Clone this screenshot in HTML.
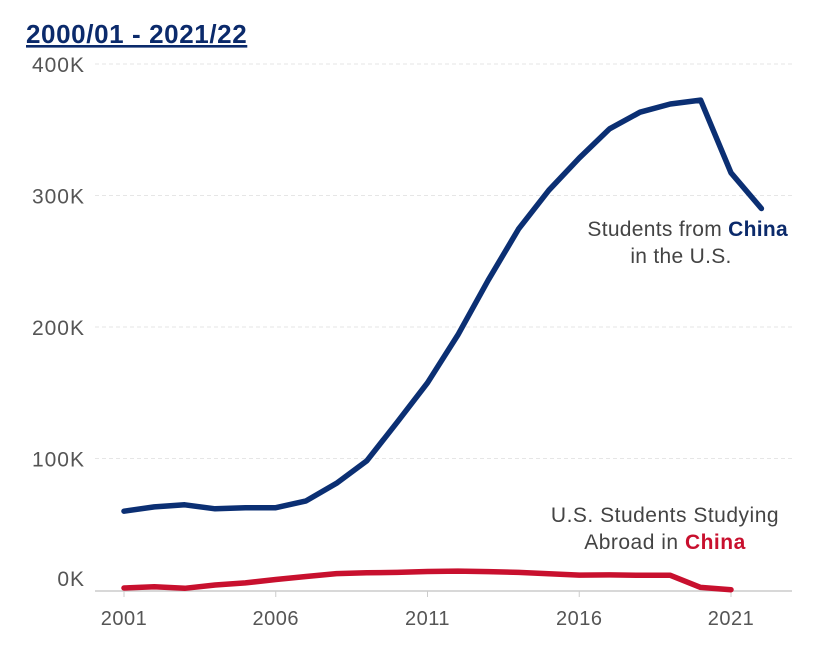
<!DOCTYPE html>
<html><head><meta charset="utf-8"><style>
body{margin:0;background:#fff;width:830px;height:650px;overflow:hidden;font-family:"Liberation Sans",sans-serif}
</style></head><body>
<svg id="chart" width="830" height="650">
<text x="26" y="43" font-size="26" font-weight="bold" letter-spacing="0.6" fill="#0b2a6b" text-decoration="underline">2000/01 - 2021/22</text>
<g id="grid"></g><g id="axes"></g><g id="series"></g>
<text x="788" y="236" text-anchor="end" font-size="21" letter-spacing="0.3" fill="#444">Students from <tspan font-weight="bold" fill="#0b2a6b">China</tspan></text>
<text x="681" y="263" text-anchor="middle" font-size="21" letter-spacing="0.3" fill="#444">in the U.S.</text>
<text x="665" y="522" text-anchor="middle" font-size="21" letter-spacing="0.5" fill="#444">U.S. Students Studying</text>
<text x="665" y="549" text-anchor="middle" font-size="21" letter-spacing="0.5" fill="#444">Abroad in <tspan font-weight="bold" fill="#c8102e">China</tspan></text>
</svg>
<script>
const years=[2001,2002,2003,2004,2005,2006,2007,2008,2009,2010,2011,2012,2013,2014,2015,2016,2017,2018,2019,2020,2021,2022];
const chinaInUS=[59939,63211,64757,61765,62523,62582,67723,81127,98235,127628,157558,194029,235597,274439,304040,328547,350755,363341,369548,372532,317299,290086];
const usInChina=[1500,2400,1300,3800,5400,8000,10300,12500,13100,13400,14100,14400,14000,13400,12400,11300,11500,11200,11200,2000,200,null];
const yTicks=[0,100000,200000,300000,400000];
const yTickLabels=["0K","100K","200K","300K","400K"];
const xTicks=[2001,2006,2011,2016,2021];
const X=y=>124+(y-2001)*30.35;
const Y=v=>590-v*0.001315;
const NS="http://www.w3.org/2000/svg";
function mk(t,a,p){const e=document.createElementNS(NS,t);for(const k in a)e.setAttribute(k,a[k]);p.appendChild(e);return e;}
const grid=document.getElementById('grid'),axes=document.getElementById('axes'),ser=document.getElementById('series');
yTicks.forEach((v,i)=>{
 if(v>0){const g=mk('line',{x1:95,x2:792,y1:Y(v),y2:Y(v),stroke:'#e6e6e6','stroke-dasharray':'4,3'},grid);
 
 }
 const t=mk('text',{x:85,y:Y(v)+(v===0?-4:8),'text-anchor':'end','font-size':21,'letter-spacing':1,fill:'#555'},axes);t.textContent=yTickLabels[i];
 
 
});
const ax=mk('line',{x1:95,x2:792,y1:591,y2:591,stroke:'#ccc','stroke-width':1.5},axes);


xTicks.forEach(y=>{
 mk('line',{x1:X(y),x2:X(y),y1:591,y2:597,stroke:'#ccc'},axes);
 const t=mk('text',{x:X(y),y:625,'text-anchor':'middle','font-size':20,'letter-spacing':0.5,fill:'#555'},axes);t.textContent=y;
 
 
});
function line(vals,color,name){
 const pts=[];vals.forEach((v,i)=>{if(v!==null)pts.push(X(years[i]).toFixed(1)+','+Y(v).toFixed(1));});
 const p=mk('polyline',{points:pts.join(' '),fill:'none',stroke:color,'stroke-width':5.5,'stroke-linejoin':'round','stroke-linecap':'round'},ser);
 
 
}
line(usInChina,'#c8102e','us-students-in-china-line');
line(chinaInUS,'#0b2f73','china-students-in-us-line');
</script>
</body></html>
